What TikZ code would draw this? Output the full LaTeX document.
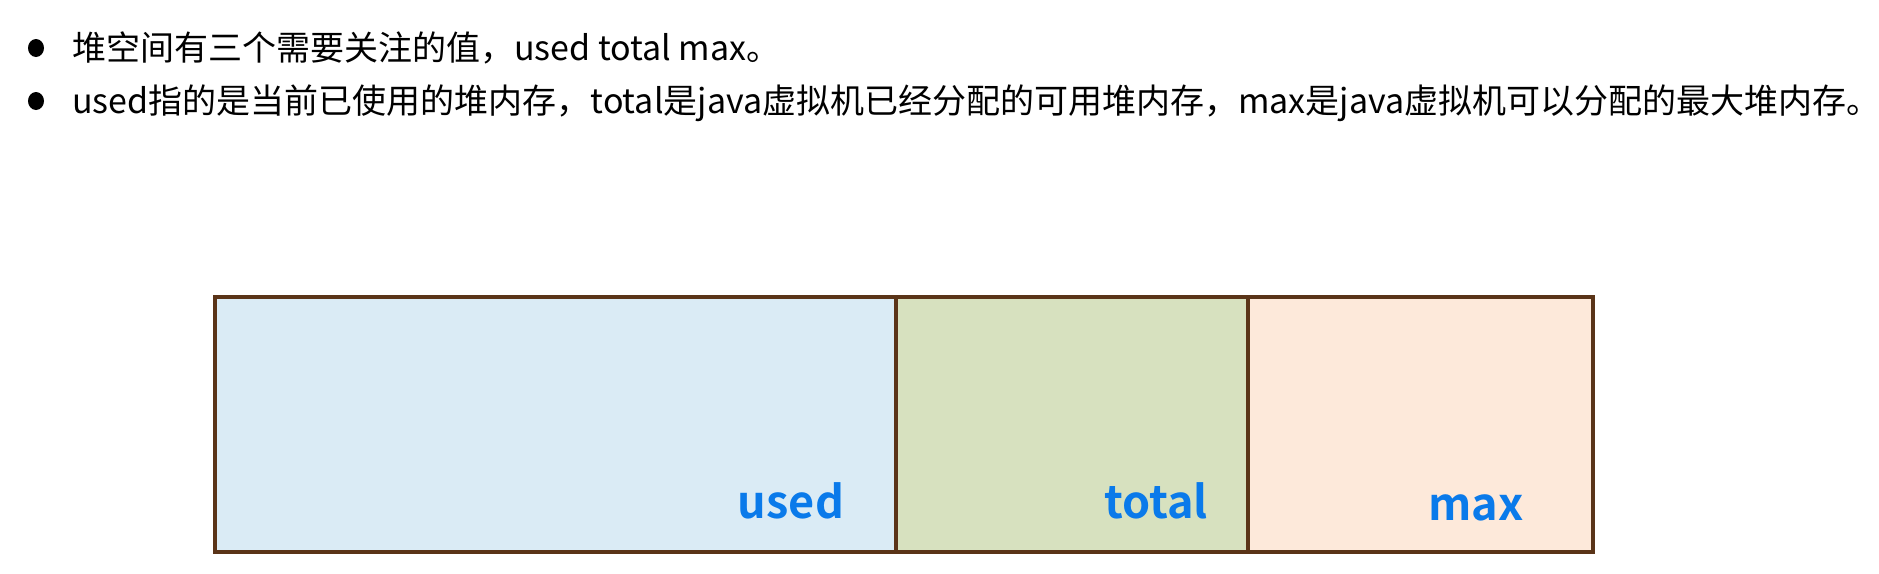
\documentclass[tikz,border=0pt]{standalone}
\usepackage{fontspec}
\setmainfont{Noto Sans CJK SC}
\newfontfamily\cjkfont{Noto Sans CJK SC}
\newfontfamily\cjkbold{Noto Sans CJK SC Bold}
\definecolor{boxline}{HTML}{5A3418}
\definecolor{usedfill}{HTML}{DAEBF5}
\definecolor{totalfill}{HTML}{D7E1BF}
\definecolor{maxfill}{HTML}{FDE9DA}
\definecolor{labelblue}{HTML}{0A7AEA}
\tikzset{
  cell/.style={draw=boxline, line width=4pt, anchor=north west, inner sep=0pt, minimum height=255pt},
  celllabel/.style={anchor=base, inner sep=0pt, text=labelblue, font=\cjkbold\fontsize{45}{48}\selectfont},
  bullettext/.style={anchor=base west, inner sep=0pt, font=\cjkfont\fontsize{34}{38}\selectfont},
  dot/.style={ellipse, fill=black, inner sep=0pt, minimum width=16pt, minimum height=18pt}
}
\usetikzlibrary{shapes.geometric}
\begin{document}
\begin{tikzpicture}[x=1pt,y=-1pt]
\useasboundingbox (0,0) rectangle (1879,573);
% bullets
\node[dot] (b1) at (36,48) {};
\node[bullettext] (t1) at (72,60) {堆空间有三个需要关注的值，used total max。};
\node[dot] (b2) at (36,101) {};
\node[bullettext] (t2) at (72,113) {used指的是当前已使用的堆内存，total是java虚拟机已经分配的可用堆内存，max是java虚拟机可以分配的最大堆内存。};
% cells
\node[cell, fill=usedfill, minimum width=681pt] (used) at (213,295) {};
\node[cell, fill=totalfill, minimum width=352pt] (total) at (894,295) {};
\node[cell, fill=maxfill, minimum width=345pt] (max) at (1246,295) {};
% labels
\node[celllabel] (lused) at (791,518) {used};
\node[celllabel] (ltotal) at (1156,518) {total};
\node[celllabel] (lmax) at (1476,520) {max};
\end{tikzpicture}
\end{document}
